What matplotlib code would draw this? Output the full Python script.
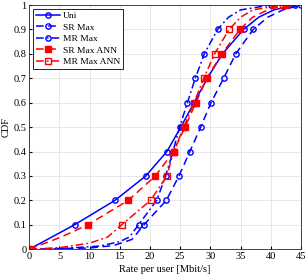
import matplotlib
matplotlib.use("Agg")
import matplotlib.pyplot as plt

# CDF of the rate per user [Mbit/s]
uni_cdf = [0, 0.1, 0.2, 0.3, 0.4, 0.5, 0.6, 0.7, 0.8, 0.9, 0.95, 0.98, 1.0]
uni_rate = [0, 7.5, 14.2, 19.3, 22.8, 25.1, 27.3, 29.5, 32.0, 35.5, 38.0, 40.5, 44.0]

sr_cdf = [0, 0.005, 0.015, 0.04, 0.1, 0.2, 0.3, 0.4, 0.5, 0.6, 0.7, 0.8, 0.9, 0.95, 0.98, 1.0]
sr_rate = [0, 10.0, 14.0, 17.0, 19.0, 22.7, 24.8, 26.6, 28.4, 30.1, 32.2, 34.2, 37.1, 39.5, 42.0, 45.0]

mr_cdf = [0, 0.004, 0.013, 0.031, 0.05, 0.1, 0.2, 0.3, 0.4, 0.5, 0.6, 0.7, 0.8, 0.9, 0.95, 0.98, 1.0]
mr_rate = [0, 6.0, 11.7, 15.0, 16.6, 18.1, 21.1, 22.6, 23.8, 24.9, 26.2, 27.5, 29.0, 31.2, 33.0, 35.0, 40.0]

sr_ann_cdf = [0, 0.05, 0.1, 0.2, 0.3, 0.4, 0.5, 0.6, 0.7, 0.8, 0.9, 0.95, 0.98, 1.0]
sr_ann_rate = [0, 5.3, 9.7, 16.4, 20.9, 23.9, 25.8, 27.6, 29.4, 31.9, 34.9, 37.0, 39.5, 42.5]

mr_ann_cdf = [0, 0.006, 0.025, 0.05, 0.1, 0.2, 0.3, 0.4, 0.5, 0.6, 0.7, 0.8, 0.9, 0.95, 0.98, 1.0]
mr_ann_rate = [0, 5.0, 10.0, 13.0, 15.3, 20.1, 22.8, 23.9, 25.6, 27.3, 28.9, 30.7, 33.1, 35.0, 37.0, 42.0]

x_ticks = [0, 5, 10, 15, 20, 25, 30, 35, 40, 45]
y_ticks = [0, 0.1, 0.2, 0.3, 0.4, 0.5, 0.6, 0.7, 0.8, 0.9, 1.0]
y_labels = ["0", "0.1", "0.2", "0.3", "0.4", "0.5", "0.6", "0.7", "0.8", "0.9", "1"]

plt.rcParams["font.family"] = ["Liberation Serif", "DejaVu Serif"]

fig = plt.figure(figsize=(3.08, 2.80), dpi=100)
ax = fig.add_axes([0.095, 0.11, 0.882, 0.872])


def decile_marks(cdf):
    # markers only on the 0, 0.1, ..., 1 levels
    return [i for i, c in enumerate(cdf) if abs(c * 10 - round(c * 10)) < 1e-6]


dash = (0, (5, 3))
dashdot = (0, (5, 2, 1.2, 2))
series = [
    ("Uni", uni_rate, uni_cdf, "blue", "-", "o", "none"),
    ("SR Max", sr_rate, sr_cdf, "blue", dash, "o", "none"),
    ("MR Max", mr_rate, mr_cdf, "blue", dashdot, "o", "none"),
    ("SR Max ANN", sr_ann_rate, sr_ann_cdf, "red", dash, "s", "red"),
    ("MR Max ANN", mr_ann_rate, mr_ann_cdf, "red", dashdot, "s", "none"),
]

for name, rate, cdf, col, ls, mk, mfc in series:
    ax.plot(rate, cdf, color=col, linestyle=ls, linewidth=1.1,
            marker=mk, markersize=3.8, markerfacecolor=mfc,
            markeredgewidth=1.0, markevery=decile_marks(cdf), label=name)

ax.set_xlim(0, 45)
ax.set_ylim(0, 1)
ax.set_xticks(x_ticks)
ax.set_yticks(y_ticks)
ax.set_yticklabels(y_labels)
ax.tick_params(labelsize=7.5, direction="in", length=2, pad=2)
ax.grid(True, color="#e3e3e3", linewidth=0.6)
ax.set_axisbelow(True)
for s in ax.spines.values():
    s.set_color("#262626")
    s.set_linewidth(0.6)

ax.set_xlabel("Rate per user [Mbit/s]", fontsize=7.5, labelpad=3)
ax.set_ylabel("CDF", fontsize=7.5, labelpad=2)

leg = ax.legend(loc="upper left", fontsize=6.8, handlelength=2.6,
                borderpad=0.3, labelspacing=0.3, handletextpad=0.3,
                fancybox=False, framealpha=1, borderaxespad=0.4)
leg.get_frame().set_edgecolor("black")
leg.get_frame().set_linewidth(0.6)

fig.savefig("out.png", dpi=100)
